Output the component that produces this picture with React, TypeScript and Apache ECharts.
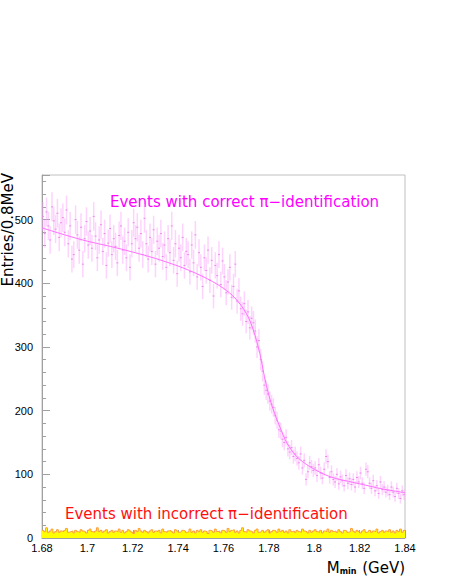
import React, { useEffect, useRef } from "react";
import * as echarts from "echarts";

const X_START = 1.68;
const BIN_WIDTH = 0.0008;

// Correct pi-identification histogram (entries per 0.8 MeV bin), 200 bins
const correctCounts: number[] = [
  505, 478, 512, 490, 468, 520, 498, 485, 510, 472,
  495, 503, 480, 515, 462, 490, 438, 445, 500, 476,
  452, 488, 430, 470, 497, 460, 482, 455, 505, 474,
  440, 468, 492, 450, 478, 428, 463, 486, 445, 470,
  458, 432, 475, 490, 452, 466, 440, 480, 425, 462,
  495, 470, 488, 455, 478, 445, 502, 462, 438, 472,
  450, 484, 430, 466, 455, 478, 442, 460, 425, 470,
  448, 490, 436, 462, 415, 455, 440, 472, 428, 450,
  445, 418, 460, 432, 476, 410, 448, 425, 395, 440,
  420, 452, 405, 436, 380, 428, 412, 445, 398, 435,
  410, 385, 402, 425, 378, 395, 430, 372, 388, 360,
  352, 368, 340, 355, 330, 345, 338, 325, 300, 310,
  280, 262, 240, 232, 226, 215, 210, 205, 192, 185,
  170, 168, 155, 150, 158, 140, 135, 142, 128, 132,
  125, 118, 132, 110, 122, 92, 104, 118, 112, 106,
  110, 98, 115, 102, 94, 108, 128, 120, 95, 104,
  92, 88, 100, 85, 96, 90, 82, 98, 86, 93,
  84, 92, 80, 95, 88, 102, 86, 78, 108, 104,
  86, 78, 90, 74, 82, 70, 88, 76, 80, 72,
  75, 68, 80, 72, 65, 78, 70, 62, 74, 68,
];

// Incorrect pi-identification histogram, 200 bins
const incorrectCounts: number[] = [
  12, 10, 16, 9, 11, 14, 8, 10, 13, 9, 11, 10, 12, 15, 9, 10, 11, 8, 12, 10,
  9, 13, 11, 10, 8, 12, 14, 10, 9, 11, 16, 10, 12, 9, 11, 13, 8, 10, 12, 9,
  11, 10, 14, 9, 12, 8, 10, 13, 11, 9, 7, 12, 10, 15, 11, 9, 12, 10, 8, 11,
  13, 9, 11, 10, 12, 8, 14, 10, 9, 11, 12, 10, 8, 13, 11, 9, 10, 12, 11, 9,
  10, 14, 9, 11, 8, 12, 10, 13, 9, 11, 10, 7, 12, 11, 9, 14, 10, 11, 8, 12,
  11, 9, 15, 10, 12, 13, 9, 11, 8, 12, 16, 10, 9, 13, 11, 10, 8, 12, 14, 9,
  10, 12, 9, 11, 13, 8, 10, 12, 11, 9, 14, 10, 12, 9, 11, 8, 13, 10, 11, 9,
  12, 10, 9, 14, 11, 10, 8, 12, 9, 11, 13, 10, 9, 12, 8, 11, 10, 14, 9, 12,
  10, 11, 9, 13, 10, 8, 12, 11, 9, 10, 15, 11, 9, 12, 10, 8, 11, 13, 9, 10,
  12, 9, 11, 10, 14, 8, 10, 12, 9, 11, 10, 13, 9, 11, 8, 12, 10, 14, 9, 12,
];

// Fit curve
const fitX: number[] = [
  1.68, 1.69, 1.7, 1.71, 1.72, 1.73, 1.74, 1.745, 1.75, 1.755, 1.76, 1.765, 1.77,
  1.773, 1.776, 1.778, 1.78, 1.782, 1.785, 1.788, 1.792, 1.796, 1.8, 1.805,
  1.81, 1.815, 1.82, 1.825, 1.83, 1.835, 1.84,
];
const fitY: number[] = [
  487, 476, 466, 458, 449, 439, 427, 420, 412, 403, 392, 377, 353,
  328, 290, 254, 224, 201, 173, 149, 129, 117, 108, 99,
  93, 89, 85, 81, 77, 74, 71,
];

const xTickLabels: string[] = ["1.68", "1.7", "1.72", "1.74", "1.76", "1.78", "1.8", "1.82", "1.84"];
const yTickLabels: string[] = ["0", "100", "200", "300", "400", "500"];

const FONT = "'Liberation Sans', Arial, Helvetica, sans-serif";
const TFONT = "'DejaVu Sans', 'Liberation Sans', sans-serif";

export default function App() {
  const ref = useRef<HTMLDivElement>(null);

  useEffect(() => {
    if (!ref.current) return;
    const chart = echarts.init(ref.current, undefined, { renderer: "svg" });

    const errData = correctCounts.map((v, i) => [
      X_START + BIN_WIDTH * (i + 0.5),
      v,
      Math.sqrt(v),
    ]);
    const stepData = incorrectCounts.map((v, i) => [X_START + BIN_WIDTH * i, v]);
    stepData.push([X_START + BIN_WIDTH * incorrectCounts.length, incorrectCounts[incorrectCounts.length - 1]]);
    const fitData = fitX.map((x, i) => [x, fitY[i]]);

    chart.setOption({
      animation: false,
      backgroundColor: "#ffffff",
      grid: {
        left: 42,
        right: 44,
        top: 175,
        bottom: 42,
        show: true,
        borderColor: "#c0c0c0",
        borderWidth: 1,
        backgroundColor: "transparent",
      },
      xAxis: {
        type: "value",
        min: 1.68,
        max: 1.84,
        interval: 0.02,
        axisLine: { show: true, lineStyle: { color: "#a0a0a0" } },
        axisTick: { show: true, inside: true, length: 8, lineStyle: { color: "#a0a0a0" } },
        minorTick: { show: true, splitNumber: 4, length: 4, lineStyle: { color: "#a0a0a0" } },
        splitLine: { show: false },
        axisLabel: {
          color: "#000",
          fontFamily: FONT,
          fontSize: 11,
          margin: 4,
          formatter: (v: number) => {
            const idx = Math.round((v - 1.68) / 0.02);
            return xTickLabels[idx] ?? "";
          },
        },
      },
      yAxis: {
        type: "value",
        min: 0,
        max: 570,
        interval: 100,
        axisLine: { show: true, lineStyle: { color: "#a0a0a0" } },
        axisTick: { show: true, inside: true, length: 8, lineStyle: { color: "#a0a0a0" } },
        minorTick: { show: true, splitNumber: 5, length: 4, lineStyle: { color: "#a0a0a0" } },
        splitLine: { show: false },
        axisLabel: {
          color: "#000",
          fontFamily: FONT,
          fontSize: 11,
          margin: 9,
          showMaxLabel: false,
          formatter: (v: number) => {
            const idx = Math.round(v / 100);
            return Math.abs(v - idx * 100) < 1e-6 ? yTickLabels[idx] ?? "" : "";
          },
        },
      },
      series: [
        {
          type: "line",
          data: stepData,
          step: "end",
          symbol: "none",
          lineStyle: { color: "#ff9a3a", width: 1 },
          areaStyle: { color: "#ffff00", opacity: 1 },
          z: 3,
        },
        {
          type: "custom",
          data: errData,
          clip: true,
          z: 2,
          renderItem: (params: any, api: any) => {
            const x = api.value(0);
            const v = api.value(1);
            const e = api.value(2);
            const top = api.coord([x, v + e]);
            const bot = api.coord([x, v - e]);
            const c = api.coord([x, v]);
            return {
              type: "group",
              children: [
                {
                  type: "line",
                  shape: { x1: top[0], y1: top[1], x2: bot[0], y2: bot[1] },
                  style: { stroke: "rgba(250,160,250,0.45)", lineWidth: 1.5 },
                },
                {
                  type: "line",
                  shape: { x1: c[0] - 1, y1: c[1], x2: c[0] + 1, y2: c[1] },
                  style: { stroke: "#ee88ee", lineWidth: 1 },
                },
              ],
            };
          },
        },
        {
          type: "line",
          data: fitData,
          smooth: 0.35,
          symbol: "none",
          lineStyle: { color: "#ff70ff", width: 1 },
          z: 4,
        },
      ],
      graphic: [
        {
          type: "text",
          x: 110,
          y: 202,
          style: {
            text: "Events with correct π−identification",
            fill: "#ff00ff",
            font: `15px ${TFONT}`,
            verticalAlign: "middle",
            align: "left",
          },
        },
        {
          type: "text",
          x: 65,
          y: 514,
          style: {
            text: "Events with incorrect π−identification",
            fill: "#ff1010",
            font: `15px ${TFONT}`,
            verticalAlign: "middle",
            align: "left",
          },
        },
        {
          type: "text",
          x: 8,
          y: 173,
          rotation: Math.PI / 2,
          style: {
            text: "Entries/0.8MeV",
            fill: "#000",
            font: `15px ${TFONT}`,
            align: "right",
            verticalAlign: "middle",
          },
        },
        {
          type: "text",
          x: 405,
          y: 568,
          style: {
            text: "{a|M}{b|min}{a| (GeV)}",
            align: "right",
            verticalAlign: "middle",
            rich: {
              a: { fontFamily: TFONT, fontSize: 15, fill: "#000", verticalAlign: "bottom" },
              b: { fontFamily: TFONT, fontSize: 8, fontWeight: "bold", fill: "#000", padding: [6, 1, 0, 0] },
            },
          },
        },
      ],
    });

    return () => chart.dispose();
  }, []);

  return (
    <div
      ref={ref}
      style={{ position: "fixed", left: 0, top: 0, width: 449, height: 580 }}
    />
  );
}
